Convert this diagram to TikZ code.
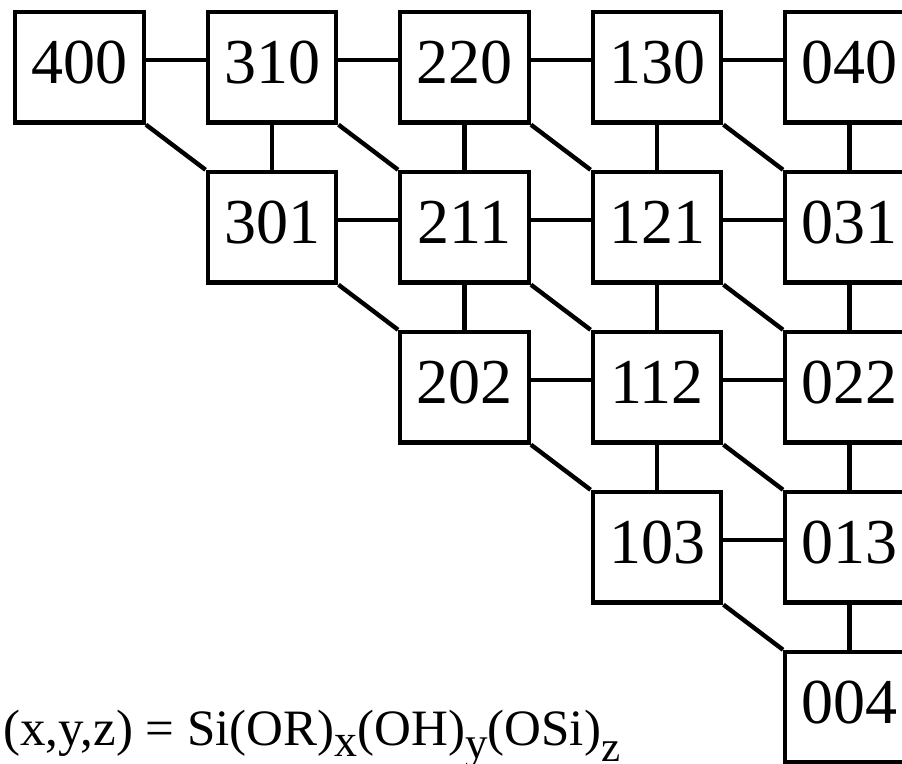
\documentclass[tikz,border=0pt]{standalone}
\usepackage{fontspec}
\setmainfont{Liberation Serif}
% lowered subscript for the formula line: #1 drop, #2 size, #3 text
\newcommand\lowsub[3]{\raisebox{-#1}{\fontsize{#2}{#2}\selectfont #3}}
\begin{document}
\begin{tikzpicture}[x=1pt,y=-1pt,
  cell/.style={draw, rectangle, line width=4.4pt, minimum width=128.5pt,
    minimum height=110.5pt, inner sep=0pt, font=\fontsize{64}{64}\selectfont,
    text height=43pt, text depth=11pt},
  link/.style={line width=4.4pt}]
\useasboundingbox (0,0) rectangle (902,763);

% triangular grid of species (x,y,z) with x+y+z = 4
\foreach \r in {0,...,4} {
  \foreach \c in {\r,...,4} {
    \pgfmathtruncatemacro\xa{4-\c}
    \pgfmathtruncatemacro\xb{\c-\r}
    \node[cell] (n\r\c) at ({79.5+192.5*\c},{67.25+160*\r}) {\xa\xb\r};
  }
}

% horizontal and diagonal links
\foreach \r in {0,...,3} {
  \foreach \c in {\r,...,3} {
    \pgfmathtruncatemacro\cn{\c+1}
    \pgfmathtruncatemacro\rn{\r+1}
    \draw[link] ([yshift=7.5pt]n\r\c.east) -- ([yshift=7.5pt]n\r\cn.west);
    \draw[link] (n\r\c.south east) -- (n\rn\cn.north west);
  }
}

% vertical links
\foreach \r in {0,...,3} {
  \pgfmathtruncatemacro\cs{\r+1}
  \foreach \c in {\cs,...,4} {
    \pgfmathtruncatemacro\rn{\r+1}
    \draw[link] (n\r\c.south) -- (n\rn\c.north);
  }
}

\node[anchor=base west, inner sep=0pt, font=\fontsize{51}{51}\selectfont]
  (formula) at (3,745)
  {(x,y,z) = Si(OR)\lowsub{11pt}{46}{x}(OH)\lowsub{13pt}{45}{y}(OSi)\lowsub{16pt}{43}{z}};
\end{tikzpicture}
\end{document}
